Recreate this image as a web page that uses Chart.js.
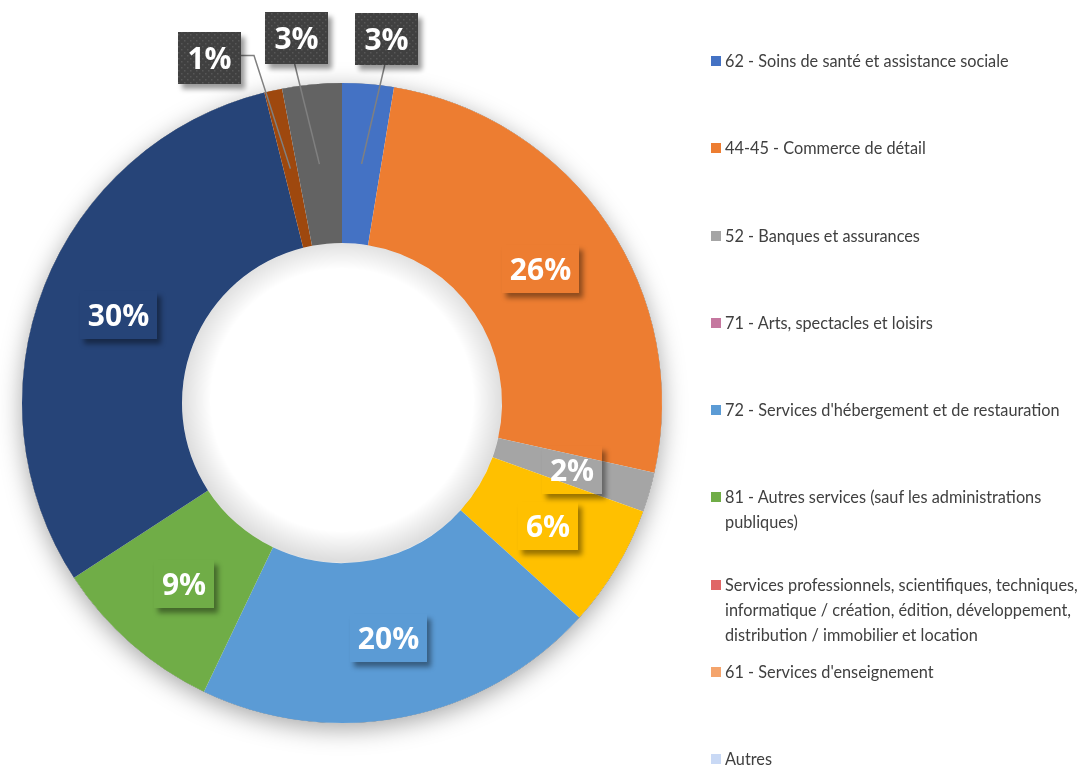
<!DOCTYPE html>
<html lang="fr">
<head>
<meta charset="utf-8">
<script src="https://cdn.jsdelivr.net/npm/chart.js@4"></script>
<style>
    html, body { margin: 0; padding: 0; background: #fff; }
    #wrap { position: relative; width: 1089px; height: 765px; overflow: hidden; }
    #chart { position: absolute; left: 0; top: 0; }
    .legend { position: absolute; left: 711px; top: 48px; width: 378px; font-family: Lato, "Open Sans", sans-serif; font-size: 16.3px; color: #404040; }
    .legend-item { height: 87.3px; display: flex; align-items: flex-start; line-height: 25px; }
    .legend-box { width: 10px; height: 10px; margin-top: 8px; margin-right: 4px; flex: none; }
</style>
</head>
<body>
<div id="wrap">
    <canvas id="chart" width="1089" height="765"></canvas>
    <div class="legend js-legend"></div>
</div>
<script>
const categories = [
    "62 - Soins de santé et assistance sociale",
    "44-45 - Commerce de détail",
    "52 - Banques et assurances",
    "71 - Arts, spectacles et loisirs",
    "72 - Services d'hébergement et de restauration",
    ["81 - Autres services (sauf les administrations", "publiques)"],
    ["Services professionnels, scientifiques, techniques,", "informatique / création, édition, développement,", "distribution / immobilier et location"],
    "61 - Services d'enseignement",
    "Autres"
];
const shares = [2.6, 25.9, 2.0, 6.2, 20.4, 8.7, 30.3, 0.9, 3.0];

const sliceColors = ["#4472C4", "#ED7D31", "#A5A5A5", "#FFC000", "#5B9BD5", "#70AD47", "#264478", "#9E480E", "#636363"];
const legendColors = ["#4472C4", "#ED7D31", "#A5A5A5", "#C5779F", "#5B9BD5", "#70AD47", "#E06666", "#F4A46C", "#C9D9F5"];

// small slices get their label outside, in a dark box with a leader line
const outsideLabel = [true, false, false, false, false, false, false, true, true];
const labelNudge = [[15, 0], [0, 0], [0, 0], [0, 0], [0, 0], [0, 0], [0, 0], [-54, 11], [-11, -2]];

const total = shares.reduce((s, v) => s + v, 0);
const labelFont = 'bold 30px "Open Sans", sans-serif';

// legend (html, colours differ from the slices in the original)
let legendHTML = '';
categories.forEach((cat, index) => {
    const lines = Array.isArray(cat) ? cat : [cat];
    legendHTML += `<div class="legend-item">
        <span class="legend-box" style="background:${legendColors[index]}"></span>
        <span>${lines.join('<br>')}</span>
    </div>`;
});
document.querySelector('.js-legend').innerHTML = legendHTML;

function dotPattern(ctx) {
    const c = document.createElement('canvas');
    c.width = 6; c.height = 6;
    const p = c.getContext('2d');
    p.fillStyle = '#404040';
    p.fillRect(0, 0, 6, 6);
    p.fillStyle = '#575757';
    p.fillRect(1, 1, 1.5, 1.5);
    p.fillRect(4, 4, 1.5, 1.5);
    return ctx.createPattern(c, 'repeat');
}

function shadowOutside(ctx, chart, drawShape, blur, offX, offY, color) {
    ctx.save();
    ctx.beginPath();
    ctx.rect(0, 0, chart.width, chart.height);
    drawShape();
    ctx.clip('evenodd');
    ctx.shadowColor = color;
    ctx.shadowBlur = blur;
    ctx.shadowOffsetX = offX;
    ctx.shadowOffsetY = offY;
    ctx.fillStyle = '#000';
    ctx.beginPath();
    drawShape();
    ctx.fill();
    ctx.restore();
}

const ringEffects = {
    id: 'ringEffects',
    beforeDatasetsDraw(chart) {
        const arc = chart.getDatasetMeta(0).data[0];
        const ctx = chart.ctx;
        const {x, y, outerRadius} = arc;
        shadowOutside(ctx, chart, () => {
            ctx.moveTo(x + outerRadius, y);
            ctx.arc(x, y, outerRadius, 0, Math.PI * 2);
        }, 24, 0, 6, 'rgba(0,0,0,0.35)');
    },
    afterDatasetsDraw(chart) {
        const ctx = chart.ctx;
        const meta = chart.getDatasetMeta(0);
        const first = meta.data[0];
        const {x, y, innerRadius} = first;

        // soft inner shadow of the hole
        ctx.save();
        const g = ctx.createRadialGradient(x, y - 3, innerRadius * 0.82, x, y - 3, innerRadius);
        g.addColorStop(0, 'rgba(0,0,0,0)');
        g.addColorStop(1, 'rgba(0,0,0,0.13)');
        ctx.fillStyle = g;
        ctx.beginPath();
        ctx.arc(x, y, innerRadius, 0, Math.PI * 2);
        ctx.fill();
        ctx.restore();

        const pattern = dotPattern(ctx);
        ctx.font = labelFont;

        meta.data.forEach((arc, index) => {
            const text = Math.round(shares[index] / total * 100) + '%';
            const mid = (arc.startAngle + arc.endAngle) / 2;
            const rMid = (arc.innerRadius + arc.outerRadius) / 2;
            const ax = arc.x + Math.cos(mid) * rMid;
            const ay = arc.y + Math.sin(mid) * rMid;
            const tw = ctx.measureText(text).width;

            let cx = ax, cy = ay, w = tw + 16, h = 48;
            if (outsideLabel[index]) {
                const rOut = arc.outerRadius + 45;
                cx = arc.x + Math.cos(mid) * rOut + labelNudge[index][0];
                cy = arc.y + Math.sin(mid) * rOut + labelNudge[index][1];
                w = tw + 19;
                h = 52;
            }
            w = Math.round(w);
            const bx = Math.round(cx - w / 2), by = Math.round(cy - h / 2);

            if (outsideLabel[index]) {
                // leader line
                ctx.save();
                ctx.strokeStyle = '#808080';
                ctx.lineWidth = 1.5;
                ctx.beginPath();
                ctx.moveTo(ax, ay);
                if (ax >= bx && ax <= bx + w) {
                    ctx.lineTo(cx - 2, by + h);
                } else if (ax > bx + w) {
                    ctx.lineTo(bx + w + 13, cy - 2);
                    ctx.lineTo(bx + w, cy - 2);
                } else {
                    ctx.lineTo(bx - 13, cy - 2);
                    ctx.lineTo(bx, cy - 2);
                }
                ctx.stroke();
                ctx.restore();
            }

            shadowOutside(ctx, chart, () => {
                ctx.rect(bx, by, w, h);
            }, 5, 4, 5, 'rgba(0,0,0,0.4)');

            if (outsideLabel[index]) {
                ctx.save();
                ctx.fillStyle = pattern;
                ctx.fillRect(bx, by, w, h);
                ctx.restore();
            }

            ctx.save();
            ctx.font = labelFont;
            ctx.fillStyle = '#fff';
            ctx.textAlign = 'center';
            ctx.textBaseline = 'alphabetic';
            ctx.fillText(text, bx + w / 2, by + h / 2 + 11);
            ctx.restore();
        });
    }
};

new Chart(document.getElementById('chart'), {
    type: 'doughnut',
    data: {
        labels: categories,
        datasets: [{
            data: shares,
            backgroundColor: sliceColors,
            borderWidth: 0
        }]
    },
    options: {
        responsive: false,
        animation: false,
        cutout: '50%',
        layout: {
            padding: {left: 22, right: 427, top: 83, bottom: 42}
        },
        plugins: {
            legend: {display: false},
            tooltip: {enabled: false}
        }
    },
    plugins: [ringEffects]
});
</script>
</body>
</html>
